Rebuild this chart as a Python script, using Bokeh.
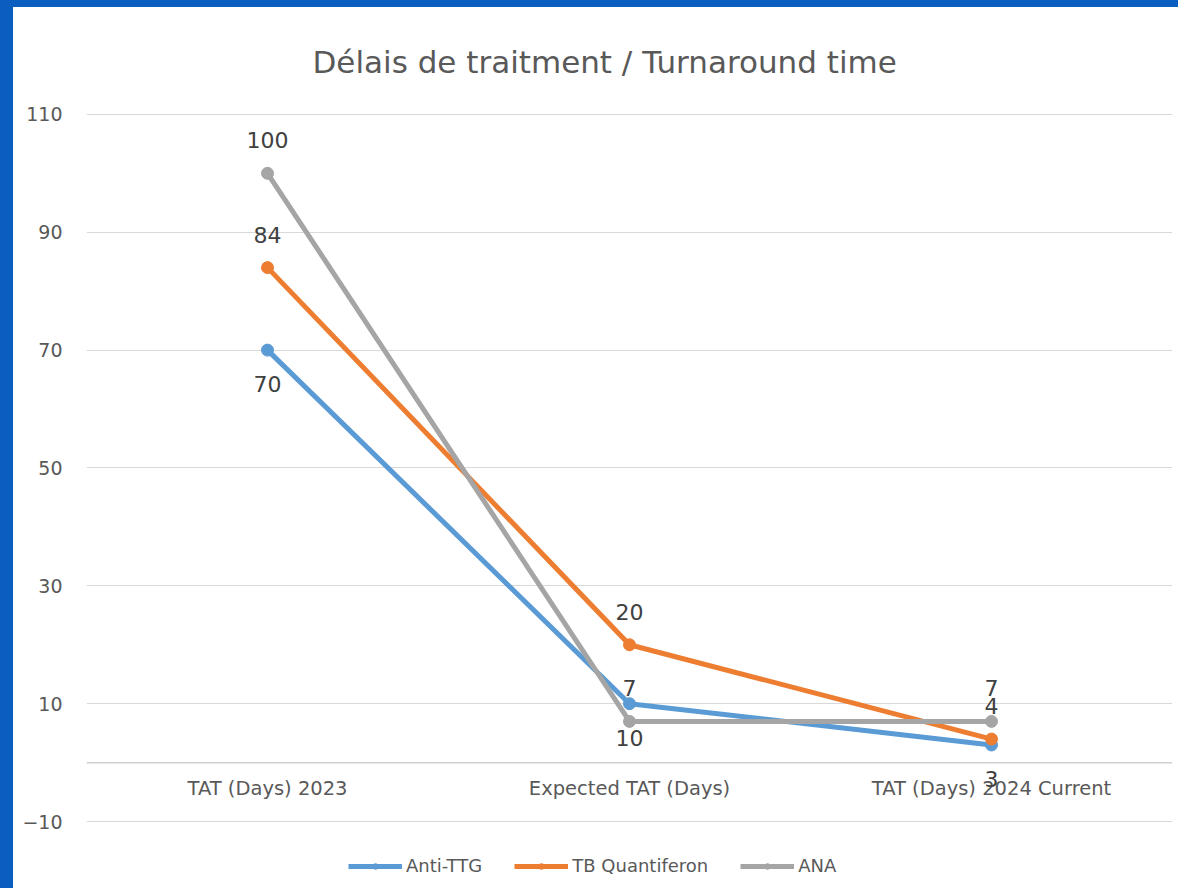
from bokeh.plotting import figure
from bokeh.models import FactorRange, Range1d, FixedTicker, Legend, LegendItem, Span, Div
from bokeh.layouts import column, row
from bokeh.embed import file_html
from bokeh.resources import INLINE
from bokeh.core.properties import value

categories = ["TAT (Days) 2023", "Expected TAT (Days)", "TAT (Days) 2024 Current"]
series_names = ["Anti-TTG", "TB Quantiferon", "ANA"]
anti_ttg = [70, 10, 3]
tb_quantiferon = [84, 20, 4]
ana = [100, 7, 7]
anti_ttg_labels = ["70", "10", "3"]
tb_quantiferon_labels = ["84", "20", "4"]
ana_labels = ["100", "7", "7"]
y_ticks = [-10, 10, 30, 50, 70, 90, 110]

FONT = "DejaVu Sans"
TXT = "#595959"
BLUE = "#0A5EC0"

fig = figure(
    x_range=FactorRange(*categories, range_padding=0),
    y_range=Range1d(-20, 110.15),
    width=1165, height=881,
    output_backend="svg", toolbar_location=None,
    title="Délais de traitment / Turnaround time",
    min_border_left=73, min_border_right=6, min_border_top=106, min_border_bottom=8,
    margin=0,
)
fig.title.align = "left"
fig.title.offset = 226
fig.title.text_font = FONT
fig.title.text_font_style = "normal"
fig.title.text_font_size = "31px"
fig.title.text_color = TXT
fig.title.standoff = 67

fig.outline_line_color = None
fig.background_fill_color = "white"
fig.border_fill_color = "white"

fig.yaxis.ticker = FixedTicker(ticks=y_ticks)
fig.ygrid.ticker = FixedTicker(ticks=y_ticks)
fig.ygrid.grid_line_color = "#d9d9d9"
fig.xgrid.grid_line_color = None
fig.yaxis.axis_line_color = None
fig.yaxis.major_tick_line_color = None
fig.yaxis.minor_tick_line_color = None
fig.yaxis.major_label_text_font = FONT
fig.yaxis.major_label_text_font_size = "19px"
fig.yaxis.major_label_text_color = TXT
fig.yaxis.major_label_standoff = 18

fig.xaxis.visible = False
fig.add_layout(Span(location=0, dimension="width", line_color="#d0d0d0", line_width=1.5))

# category labels along the zero line
zeros = [0] * len(categories)
fig.text(categories, zeros, text=categories, y_offset=26, text_align="center",
         text_baseline="middle", text_font=value(FONT), text_font_size="19.5px",
         text_color=TXT)

colors = ["#5B9BD5", "#ED7D31", "#A5A5A5"]
all_vals = [anti_ttg, tb_quantiferon, ana]
all_labels = [anti_ttg_labels, tb_quantiferon_labels, ana_labels]
offsets = [34, -33, -33]

items = []
for name, vals, labs, col, off in zip(series_names, all_vals, all_labels, colors, offsets):
    ln = fig.line(categories, vals, line_color=col, line_width=5)
    sc = fig.scatter(categories, vals, size=12, fill_color=col, line_color=col)
    fig.text(categories, vals, text=labs, y_offset=off, text_align="center",
             text_baseline="middle", text_font=value(FONT), text_font_size="22px",
             text_color="#404040")
    items.append(LegendItem(label=name, renderers=[ln, sc]))

legend = Legend(items=items, orientation="horizontal", location=(262, 4),
                border_line_color=None, background_fill_alpha=0,
                label_text_font=FONT, label_text_font_size="18px",
                label_text_color=TXT, glyph_width=54, glyph_height=14,
                spacing=32, label_standoff=4, padding=0, margin=0)
fig.add_layout(legend)

top_bar = Div(text="", width=1178, height=7, margin=0,
              styles={"background-color": BLUE})
left_bar = Div(text="", width=13, height=881, margin=0,
               styles={"background-color": BLUE})
p = column(top_bar, row(left_bar, fig, spacing=0, margin=0), spacing=0, margin=0)

open("out.html", "w").write(file_html(p, INLINE))
